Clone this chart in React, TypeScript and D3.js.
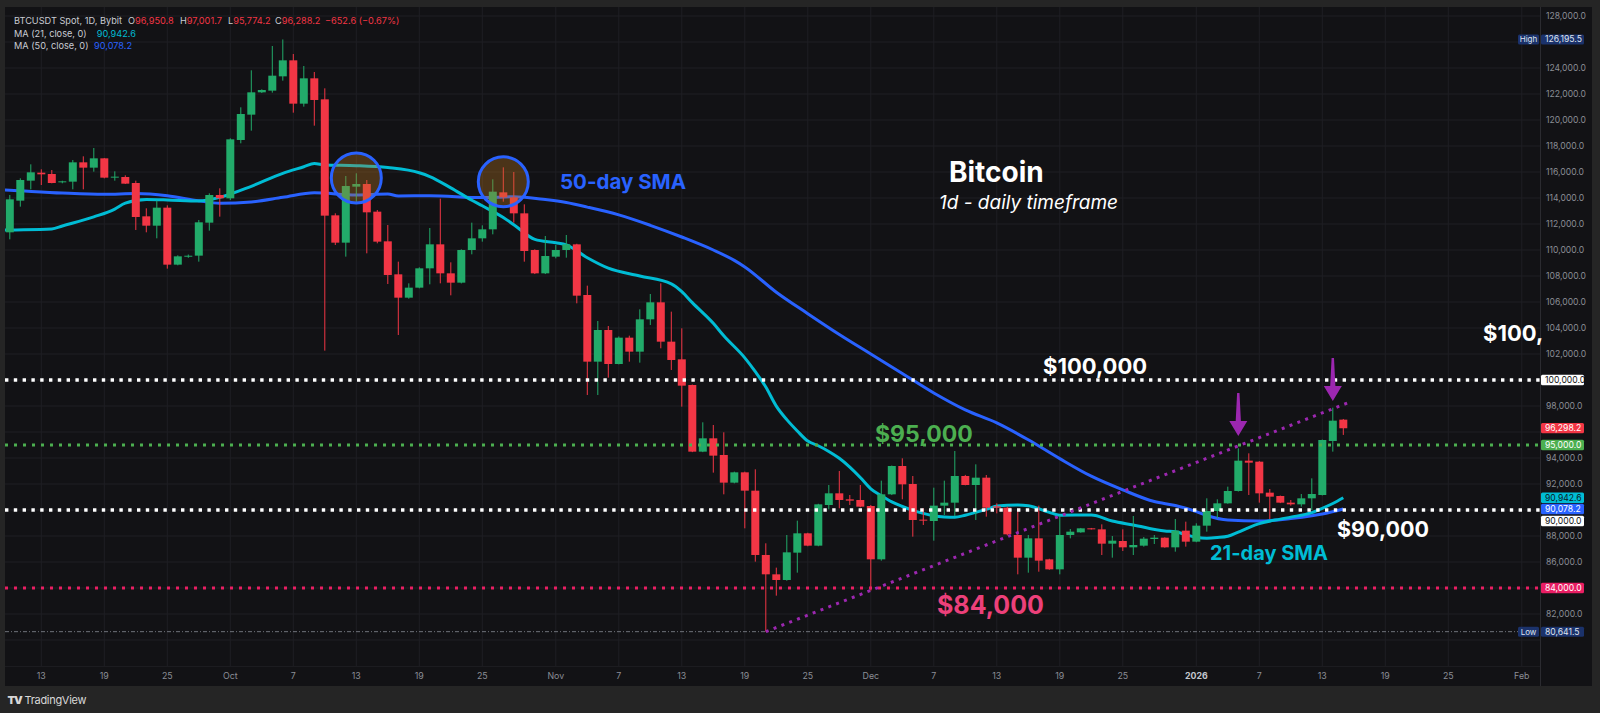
import React from "react";
import * as d3 from "d3";

// ---------- DATA ----------
const dates = [
  "2025-09-10","2025-09-11","2025-09-12","2025-09-13","2025-09-14","2025-09-15","2025-09-16","2025-09-17","2025-09-18","2025-09-19","2025-09-20","2025-09-21","2025-09-22","2025-09-23","2025-09-24","2025-09-25","2025-09-26","2025-09-27","2025-09-28","2025-09-29","2025-09-30",
  "2025-10-01","2025-10-02","2025-10-03","2025-10-04","2025-10-05","2025-10-06","2025-10-07","2025-10-08","2025-10-09","2025-10-10","2025-10-11","2025-10-12","2025-10-13","2025-10-14","2025-10-15","2025-10-16","2025-10-17","2025-10-18","2025-10-19","2025-10-20","2025-10-21","2025-10-22","2025-10-23","2025-10-24","2025-10-25","2025-10-26","2025-10-27","2025-10-28","2025-10-29","2025-10-30","2025-10-31",
  "2025-11-01","2025-11-02","2025-11-03","2025-11-04","2025-11-05","2025-11-06","2025-11-07","2025-11-08","2025-11-09","2025-11-10","2025-11-11","2025-11-12","2025-11-13","2025-11-14","2025-11-15","2025-11-16","2025-11-17","2025-11-18","2025-11-19","2025-11-20","2025-11-21","2025-11-22","2025-11-23","2025-11-24","2025-11-25","2025-11-26","2025-11-27","2025-11-28","2025-11-29","2025-11-30",
  "2025-12-01","2025-12-02","2025-12-03","2025-12-04","2025-12-05","2025-12-06","2025-12-07","2025-12-08","2025-12-09","2025-12-10","2025-12-11","2025-12-12","2025-12-13","2025-12-14","2025-12-15","2025-12-16","2025-12-17","2025-12-18","2025-12-19","2025-12-20","2025-12-21","2025-12-22","2025-12-23","2025-12-24","2025-12-25","2025-12-26","2025-12-27","2025-12-28","2025-12-29","2025-12-30","2025-12-31",
  "2026-01-01","2026-01-02","2026-01-03","2026-01-04","2026-01-05","2026-01-06","2026-01-07","2026-01-08","2026-01-09","2026-01-10","2026-01-11","2026-01-12","2026-01-13","2026-01-14","2026-01-15",
];

const opens = [
  111360,113796,115334,115949,115847,115206,115257,116744,116334,117051,115590,115616,115154,112590,111872,113257,108873,109513,109565,112103,114231,
  113975,118462,120411,122128,122256,123359,124590,121257,123205,121590,112667,110565,114872,115077,112949,110667,108128,106333,107103,108590,110436,108205,107487,110000,110897,111590,114436,114051,112820,110000,108205,
  109487,110000,110436,106539,101411,103847,101231,103257,102180,104667,105975,102949,101590,99616,94488,95514,94232,92104,92898,91488,86540,85052,84616,86719,88206,87257,90385,91283,90821,90770,
  90308,86206,91206,93385,92001,89257,89154,90334,90564,92616,91923,92487,90282,90179,88077,86333,87820,86205,85436,88077,88282,88590,88513,87410,87615,87128,87256,87769,87872,87128,88411,
  87564,88795,89923,90513,91462,93795,93718,91334,91077,90565,90436,90898,91154,95308,96950.8,
];

const highs = [
  114231,115513,116590,116206,116154,115330,116923,117205,117846,117080,116052,115744,115334,113206,113796,113436,109590,109650,112308,114359,114744,
  118590,120975,123821,122360,125692,126195.5,125077,124154,123692,122436,112821,115693,115898,115385,113077,111924,109103,107436,108667,111692,113948,109051,110050,112103,111897,115436,116359,116000,113513,110050,111077,
  110385,111154,110480,107257,104539,104154,103350,103411,105436,106616,107436,105257,103975,99650,96745,96539,95975,92950,92950,93129,87437,85565,88078,89180,88250,90480,91924,93001,91154,91924,
  90385,92257,93420,93975,92616,90129,91718,92257,94539,92700,93513,92692,90513,90256,89999,88077,90333,86250,89564,88538,88620,88620,88897,88000,88513,89538,87923,88077,87900,89308,89103,
  88975,90898,90821,91795,94744,94359,93760,91616,91110,90770,91231,92436,95420,97872,97001.7,
];

const lows = [
  110821,113334,114667,115000,115129,115130,114667,114667,116026,115513,115334,115080,111539,111360,110898,108565,108820,109400,109103,111488,112565,
  113847,118206,119180,122080,122103,123026,120564,121026,119564,102258,110385,109488,113590,109744,110513,107385,103462,106256,107051,107359,107436,106513,107430,109667,110641,111205,113718,112103,109103,108150,108150,
  109359,109410,105900,98847,98847,100180,101200,101411,101334,104231,102437,100770,97950,94450,94450,92873,91206,92050,88591,86027,80641.5,83411,84560,85180,87210,87210,90052,90129,90385,90210,
  83796,86103,91150,90821,87949,88847,87642,89616,89539,91900,89231,89487,89743,88050,85051,85179,85256,85400,85051,87820,88250,88500,86538,86333,86846,86538,87179,87385,87100,86795,87180,
  87520,88334,89359,90480,91420,91154,90565,89308,90530,90334,90257,90000,91120,94488,95774.2,
];

const closes = [
  113898,115385,115975,115821,115154,115283,116744,116334,117051,115565,115641,115103,112539,111872,113257,108873,109513,109560,112129,114231,113975,
  118513,120462,122128,122308,123410,124590,121257,123205,121539,112642,110565,114924,115077,112898,110642,108078,106333,107103,108590,110436,108205,107487,110000,110897,111590,114487,114051,112820,109923,108205,109538,
  110000,110436,106487,101411,103847,101231,103257,102180,104667,105975,102949,101539,99565,94488,95514,94181,92104,92898,91488,86540,85053,84616,86744,88206,87257,90436,91283,90770,90719,90257,
  86206,91206,93385,91975,89231,89180,90334,90564,92616,91924,92487,90179,90179,88128,86333,87820,86103,85436,88077,88333,88590,88538,87410,87641,87128,87308,87795,87872,87128,88411,87564,
  88795,89923,90513,91462,93795,93641,91282,91026,90565,90436,90898,91231,95385,96872,96288.2,
];

// MA (21)
const ma21Dates = [
  "2025-09-09","2025-09-10","2025-09-14","2025-09-15","2025-09-18","2025-09-20","2025-09-21","2025-09-23","2025-09-25","2025-09-28","2025-09-30",
  "2025-10-03","2025-10-06","2025-10-08","2025-10-09","2025-10-10","2025-10-13","2025-10-16","2025-10-19","2025-10-20","2025-10-22","2025-10-24","2025-10-25","2025-10-27","2025-10-28","2025-10-30",
  "2025-11-01","2025-11-02","2025-11-04","2025-11-06","2025-11-09","2025-11-12","2025-11-13","2025-11-14","2025-11-16","2025-11-17","2025-11-19","2025-11-20","2025-11-21","2025-11-22","2025-11-23","2025-11-24","2025-11-25","2025-11-26","2025-11-27","2025-11-28","2025-11-29","2025-11-30",
  "2025-12-01","2025-12-02","2025-12-03","2025-12-04","2025-12-05","2025-12-06","2025-12-07","2025-12-08","2025-12-09","2025-12-10","2025-12-11","2025-12-12","2025-12-13","2025-12-15","2025-12-16","2025-12-18","2025-12-19","2025-12-22","2025-12-24","2025-12-26","2025-12-29","2025-12-30","2025-12-31",
  "2026-01-01","2026-01-02","2026-01-03","2026-01-04","2026-01-05","2026-01-06","2026-01-07","2026-01-09","2026-01-10","2026-01-12","2026-01-13","2026-01-14","2026-01-15",
];
const ma21Values = [
  111520,111540,111620,111850,112550,113150,113600,113880,113850,113770,114050,
  114900,115900,116400,116650,116540,116490,116340,115940,115650,114780,113830,113400,112500,111950,110820,
  110560,110400,109400,108600,108000,107400,106800,105950,104360,103400,101700,100640,99460,97990,96950,96080,95300,94940,94500,93975,93300,92500,
  91630,91100,90620,90270,89970,89740,89560,89470,89440,89600,89820,90050,90300,90390,90330,89820,89600,89615,89150,88850,88380,88330,88100,
  87900,87830,87880,87980,88300,88650,88950,89300,89450,89800,90130,90500,90942.6,
];

// MA (50)
const ma50Dates = [
  "2025-09-09","2025-09-10","2025-09-15","2025-09-19","2025-09-22","2025-09-25","2025-09-28","2025-09-30",
  "2025-10-03","2025-10-06","2025-10-09","2025-10-13","2025-10-16","2025-10-17","2025-10-20","2025-10-25","2025-10-28","2025-10-31",
  "2025-11-02","2025-11-04","2025-11-07","2025-11-10","2025-11-13","2025-11-16","2025-11-18","2025-11-19","2025-11-22","2025-11-25","2025-11-28",
  "2025-12-01","2025-12-04","2025-12-07","2025-12-10","2025-12-13","2025-12-16","2025-12-19","2025-12-22","2025-12-25","2025-12-28","2025-12-30",
  "2026-01-01","2026-01-02","2026-01-04","2026-01-07","2026-01-10","2026-01-12","2026-01-13","2026-01-15",
];
const ma50Values = [
  114640,114600,114380,114280,114350,114180,113780,113600,
  113700,114050,114400,114230,114300,114160,114180,114030,114100,113880,
  113650,113300,112700,111900,111000,110000,109200,108700,106750,105100,103500,
  102000,100500,99000,97700,96700,95400,93950,92600,91550,90650,90350,
  89880,89580,89230,89150,89340,89550,89690,90078.2,
];

const priceTicks = [80000,82000,84000,86000,88000,90000,92000,94000,96000,98000,100000,102000,104000,106000,108000,110000,112000,114000,116000,118000,120000,122000,124000,126000,128000];

const timeTickDates = ["2025-09-13","2025-09-19","2025-09-25","2025-10-01","2025-10-07","2025-10-13","2025-10-19","2025-10-25","2025-11-01","2025-11-07","2025-11-13","2025-11-19","2025-11-25","2025-12-01","2025-12-07","2025-12-13","2025-12-19","2025-12-25","2026-01-01","2026-01-07","2026-01-13","2026-01-19","2026-01-25","2026-02-01"];
const timeTickLabels = ["13","19","25","Oct","7","13","19","25","Nov","7","13","19","25","Dec","7","13","19","25","2026","7","13","19","25","Feb"];

// Horizontal levels drawn on the chart
const levelValues = [100000, 95000, 90000, 84000];
const levelColors = ["#ffffff", "#4caf50", "#ffffff", "#e91e63"];

const lowValue = 80641.5;
const highValue = 126195.5;

// Trend line (from the Nov 21 low)
const trendDates = ["2025-11-21", "2026-01-15T14:00"];
const trendValues = [80641.5, 98290];

// Circles (date, value)
const circleDates = ["2025-10-13", "2025-10-27"];
const circleValues = [115540, 115250];

// Arrows (date, top value, tip value)
const arrowDates = ["2026-01-05", "2026-01-14"];
const arrowTopValues = [99000, 101700];
const arrowTipValues = [95690, 98380];

// Price-axis value tags
const tagValues = [100000, 96298.2, 95000, 90942.6, 90078.2, 90000, 84000];
const tagBg = ["#ffffff", "#f23645", "#4caf50", "#00bcd4", "#2962ff", "#ffffff", "#e91e63"];
const tagFg = ["#111111", "#ffffff", "#ffffff", "#0b1a1d", "#ffffff", "#111111", "#ffffff"];
const tagShift = [0, 0, 0, 0, 0, 11, 0];

// ---------- COMPONENT ----------
const FONT = "Inter, 'Noto Sans', 'DejaVu Sans', sans-serif";
const GREEN = "#22ab6a";
const RED = "#f23645";

function parseD(s: string): Date {
  return s.length > 10 ? (d3.utcParse("%Y-%m-%dT%H:%M")(s) as Date) : (d3.utcParse("%Y-%m-%d")(s) as Date);
}

export default function App() {
  const W = 1600;
  const H = 713;
  const plotL = 5, plotT = 7, plotR = 1540, plotB = 666;
  const panelR = 1592, panelB = 686;

  const x = d3.scaleUtc().domain([parseD("2025-09-13"), parseD("2026-02-01")]).range([41.3, 1521.8]);
  const y = d3.scaleLinear().domain([80000, 128000]).range([640, 16]);
  const fmt = d3.format(",.1f");

  const bodyW = 8;

  const line = d3
    .line<[Date, number]>()
    .x((d) => x(d[0]))
    .y((d) => y(d[1]))
    .curve(d3.curveMonotoneX);

  const ma21Path = line(ma21Dates.map((d, i) => [parseD(d), ma21Values[i]] as [Date, number])) || "";
  const ma50Path = line(ma50Dates.map((d, i) => [parseD(d), ma50Values[i]] as [Date, number])) || "";
  const trendPath =
    d3.line<[Date, number]>().x((d) => x(d[0])).y((d) => y(d[1]))(
      trendDates.map((d, i) => [parseD(d), trendValues[i]] as [Date, number])
    ) || "";

  const gridColor = "#1f1f24";
  const axisText = "#8b8e96";

  // axis labels hidden behind the value tags (as in the reference)
  const tagYs = [...tagValues.map((v, i) => y(v) + tagShift[i]), y(highValue), y(lowValue)];
  const visibleTicks = priceTicks.filter((v) => tagYs.every((ty) => Math.abs(y(v) - ty) > 8.5));

  return (
    <svg
      width={W}
      height={H}
      viewBox={`0 0 ${W} ${H}`}
      style={{ position: "absolute", left: 0, top: 0, display: "block" }}
      fontFamily={FONT}
    >
      <defs>
        <clipPath id="plotClip">
          <rect x={plotL} y={plotT} width={plotR - plotL} height={plotB - plotT} />
        </clipPath>
      </defs>
      {/* outer frame */}
      <rect x={0} y={0} width={W} height={H} fill="#252525" />
      <rect x={plotL} y={plotT} width={panelR - plotL} height={panelB - plotT} fill="#121215" />

      {/* grid */}
      <g clipPath="url(#plotClip)">
        {priceTicks.map((v) => (
          <line key={"h" + v} x1={plotL} x2={plotR} y1={y(v)} y2={y(v)} stroke={gridColor} strokeWidth={1} />
        ))}
        {timeTickDates.map((d) => (
          <line key={"v" + d} x1={x(parseD(d))} x2={x(parseD(d))} y1={plotT} y2={plotB} stroke={gridColor} strokeWidth={1} />
        ))}
      </g>
      {/* axis separators */}
      <line x1={plotR + 0.5} x2={plotR + 0.5} y1={plotT} y2={panelB} stroke="#2b2b30" />
      <line x1={plotL} x2={plotR} y1={plotB + 0.5} y2={plotB + 0.5} stroke="#1c1c20" />

      <g clipPath="url(#plotClip)">
        {/* low line */}
        <line x1={plotL} x2={plotR} y1={y(lowValue)} y2={y(lowValue)} stroke="#6f727a" strokeWidth={1} strokeDasharray="4 2 1 2" />

        {/* moving averages */}
        <path d={ma50Path} fill="none" stroke="#2962ff" strokeWidth={3} strokeLinejoin="round" />
        <path d={ma21Path} fill="none" stroke="#00bcd4" strokeWidth={3} strokeLinejoin="round" />

        {/* candles */}
        {dates.map((ds, i) => {
          const cx = x(parseD(ds));
          const o = opens[i], c = closes[i], h = highs[i], l = lows[i];
          const up = c >= o;
          const col = up ? GREEN : RED;
          const top = y(Math.max(o, c));
          const bot = y(Math.min(o, c));
          return (
            <g key={ds}>
              <line x1={cx} x2={cx} y1={y(h)} y2={y(l)} stroke={col} strokeWidth={1} />
              <rect x={cx - bodyW / 2} y={top} width={bodyW} height={Math.max(1, bot - top)} fill={col} />
            </g>
          );
        })}

        {/* horizontal levels */}
        {levelValues.map((v, i) => (
          <line
            key={"lv" + v}
            x1={plotL}
            x2={plotR}
            y1={y(v)}
            y2={y(v)}
            stroke={levelColors[i]}
            strokeWidth={levelColors[i] === "#ffffff" ? 3.4 : 3}
            strokeDasharray={levelColors[i] === "#ffffff" ? "3.4 5.4" : "3 6"}
          />
        ))}

        {/* trend line */}
        <path d={trendPath} fill="none" stroke="#9c27b0" strokeWidth={3} strokeDasharray="3 5.4" />

        {/* circles */}
        {circleDates.map((d, i) => (
          <circle
            key={"c" + d}
            cx={x(parseD(d))}
            cy={y(circleValues[i])}
            r={25}
            fill="#c07820"
            fillOpacity={0.33}
            stroke="#2962ff"
            strokeWidth={3}
          />
        ))}

        {/* arrows */}
        {arrowDates.map((d, i) => {
          const ax = x(parseD(d));
          const yt = y(arrowTopValues[i]);
          const yp = y(arrowTipValues[i]);
          const head = 15;
          const hw = 9;
          const pts = [
            [ax - 1.2, yt],
            [ax + 1.2, yt],
            [ax + 2.6, yp - head],
            [ax + hw, yp - head],
            [ax, yp],
            [ax - hw, yp - head],
            [ax - 2.6, yp - head],
          ]
            .map((p) => p.join(","))
            .join(" ");
          return <polygon key={"a" + d} points={pts} fill="#9c27b0" />;
        })}

        {/* annotation texts */}
        <text x={949} y={182} fill="#ffffff" fontSize={28} fontWeight={700}>Bitcoin</text>
        <text x={939} y={209} fill="#ffffff" fontSize={19} fontStyle="italic">1d - daily timeframe</text>
        <text x={560} y={189} fill="#2962ff" fontSize={20.5} fontWeight={700}>50-day SMA</text>
        <text x={1043} y={374} fill="#ffffff" fontSize={22} fontWeight={700}>$100,000</text>
        <text x={875} y={442} fill="#4caf50" fontSize={23} fontWeight={700}>$95,000</text>
        <text x={1337} y={537} fill="#ffffff" fontSize={21.5} fontWeight={700}>$90,000</text>
        <text x={937} y={614} fill="#ec407a" fontSize={25} fontWeight={700}>$84,000</text>
        <text x={1210} y={560} fill="#00bcd4" fontSize={20} fontWeight={700}>21-day SMA</text>
      </g>
      {/* label cut off by the price scale in the reference */}
      <text x={1483} y={341} fill="#ffffff" fontSize={22} fontWeight={700}>$100,</text>

      {/* legend */}
      <g fontSize={9.2} fill="#c9ccd3">
        <text x={14} y={23.5}>BTCUSDT Spot, 1D, Bybit</text>
        <text x={128} y={23.5}>O<tspan fill={RED}>96,950.8</tspan></text>
        <text x={180} y={23.5}>H<tspan fill={RED}>97,001.7</tspan></text>
        <text x={228} y={23.5}>L<tspan fill={RED}>95,774.2</tspan></text>
        <text x={275} y={23.5}>C<tspan fill={RED}>96,288.2</tspan></text>
        <text x={325} y={23.5} fill={RED}>−652.6 (−0.67%)</text>
        <text x={14} y={36.8}>MA (21, close, 0)</text>
        <text x={96.7} y={36.8} fill="#00bcd4">90,942.6</text>
        <text x={14} y={48.8}>MA (50, close, 0)</text>
        <text x={94} y={48.8} fill="#2962ff">90,078.2</text>
      </g>

      {/* price axis labels */}
      <g fontSize={8.6} fill={axisText}>
        {visibleTicks.map((v) => (
          <text key={"pt" + v} x={1546} y={y(v) + 3}>{fmt(v)}</text>
        ))}
      </g>

      {/* high / low tags */}
      {[highValue, lowValue].map((v, i) => (
        <g key={"hl" + v}>
          <rect x={1518} y={y(v) - 5} width={21} height={10} rx={1.5} fill="#1b326b" />
          <text x={1528.5} y={y(v) + 3} fontSize={8} fill="#dfe3ee" textAnchor="middle">{i === 0 ? "High" : "Low"}</text>
          <rect x={1541} y={y(v) - 5} width={43} height={10} rx={1.5} fill="#1b326b" />
          <text x={1545} y={y(v) + 3} fontSize={8.6} fill="#dfe3ee">{fmt(v)}</text>
        </g>
      ))}

      {/* value tags */}
      {tagValues.map((v, i) => (
        <g key={"tag" + i}>
          <rect x={1541} y={y(v) + tagShift[i] - 5.2} width={43} height={10.4} rx={1.5} fill={tagBg[i]} />
          <text x={1545} y={y(v) + tagShift[i] + 3} fontSize={8.6} fill={tagFg[i]}>{fmt(v)}</text>
        </g>
      ))}

      {/* time axis */}
      <g fontSize={8.8} fill={axisText} textAnchor="middle">
        {timeTickDates.map((d, i) => (
          <text
            key={"tt" + d}
            x={x(parseD(d))}
            y={679}
            fill={timeTickLabels[i] === "2026" ? "#c3c6cd" : axisText}
            fontWeight={timeTickLabels[i] === "2026" ? 700 : 400}
          >
            {timeTickLabels[i]}
          </text>
        ))}
      </g>

      {/* TradingView logo */}
      <text x={7.5} y={704} fontSize={11} fontWeight={900} fill="#d8d8d8" letterSpacing={-1}>TV</text>
      <text x={24.5} y={704} fontSize={11} fill="#d8d8d8" letterSpacing={-0.3}>TradingView</text>
    </svg>
  );
}
